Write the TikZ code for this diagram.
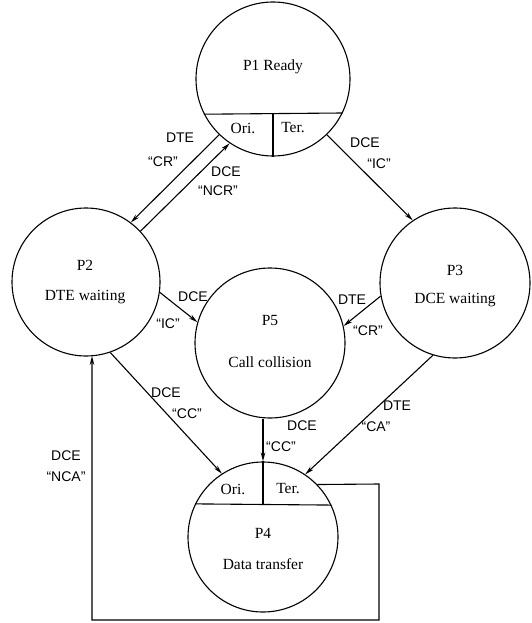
\documentclass[tikz,border=0pt]{standalone}
\usepackage{fontspec}
\setmainfont{Liberation Serif}
\newfontfamily\lblfont{Liberation Sans}
\usetikzlibrary{arrows.meta}
\begin{document}
\begin{tikzpicture}[x=1pt,y=-1pt,line width=1.1pt,
  state/.style={circle,draw,minimum size=#1,inner sep=0pt},
  txt/.style={font=\fontsize{15.5}{17}\selectfont,inner sep=0pt},
  lbl/.style={font=\lblfont\fontsize{14}{16}\selectfont,inner sep=0pt},
  arr/.style={-{Stealth[length=9pt,width=4.5pt]}}]
\useasboundingbox (0,0) rectangle (532,623);
% states
\node[state=154pt] (p1) at (273,79) {};
\node[state=148pt] (p2) at (86,282) {};
\node[state=150pt] (p3) at (455,283) {};
\node[state=150pt] (p5) at (270,343) {};
\node[state=150pt] (p4) at (263,537) {};
% inner partitions
\coordinate (p1m) at (273,113);
\draw (p1.-153.8) -- (p1.-26.2);
\draw (p1m) -- (p1.south);
\coordinate (p4m) at (263,505);
\draw (p4.154.7) -- (p4.25.3);
\draw (p4.north) -- (p4m);
% texts
\node[txt] (t1) at (273,67) {P1 Ready};
\node[txt] (t1o) at (243,128) {Ori.};
\node[txt] (t1t) at (293,128) {Ter.};
\node[txt] (t2a) at (85,265) {P2};
\node[txt] (t2b) at (85,297) {DTE waiting};
\node[txt] (t3a) at (455,270) {P3};
\node[txt] (t3b) at (455,300) {DCE waiting};
\node[txt] (t5a) at (270,320) {P5};
\node[txt] (t5b) at (270,362) {Call collision};
\node[txt] (t4o) at (233,489) {Ori.};
\node[txt] (t4t) at (288,489) {Ter.};
\node[txt] (t4a) at (263,533) {P4};
\node[txt] (t4b) at (263,564) {Data transfer};
% connectors
\draw[arr] (p1.-134.5) -- (p2.53);
\draw[arr] (p2.43) -- (p1.-124);
\draw[arr] (p1.-46) -- (p3.124);
\draw[arr] (p2.-8) -- (p5.164);
\draw[arr] (p3.-170) -- (p5.13);
\draw[arr] (p2.-71) -- (p4.123);
\draw[arr] (p4.north |- p5.south) -- (p4.north);
\draw[arr] (p3.-107) -- (p4.56);
\coordinate (c0) at (379,484);
\coordinate (c1) at (379,620);
\coordinate (c2) at (92,620);
\coordinate (c3) at (92,356);
\draw[arr] (p4.44.5) -- (c0) -- (c1) -- (c2) -- (c3);
% labels
\node[lbl] (l1a) at (180,138) {DTE};
\node[lbl] (l1b) at (163,162) {“CR”};
\node[lbl] (l2a) at (226,172) {DCE};
\node[lbl] (l2b) at (218,191) {“NCR”};
\node[lbl] (l3a) at (365,143) {DCE};
\node[lbl] (l3b) at (379,164) {“IC”};
\node[lbl] (l4a) at (193,297) {DCE};
\node[lbl] (l4b) at (168,324) {“IC”};
\node[lbl] (l5a) at (352,300) {DTE};
\node[lbl] (l5b) at (368,331) {“CR”};
\node[lbl] (l6a) at (166,393) {DCE};
\node[lbl] (l6b) at (187,414) {“CC”};
\node[lbl] (l7a) at (302,426) {DCE};
\node[lbl] (l7b) at (281,447) {“CC”};
\node[lbl] (l8a) at (397,406) {DTE};
\node[lbl] (l8b) at (376,427) {“CA”};
\node[lbl] (l9a) at (66,456) {DCE};
\node[lbl] (l9b) at (66,477) {“NCA”};
\end{tikzpicture}
\end{document}
